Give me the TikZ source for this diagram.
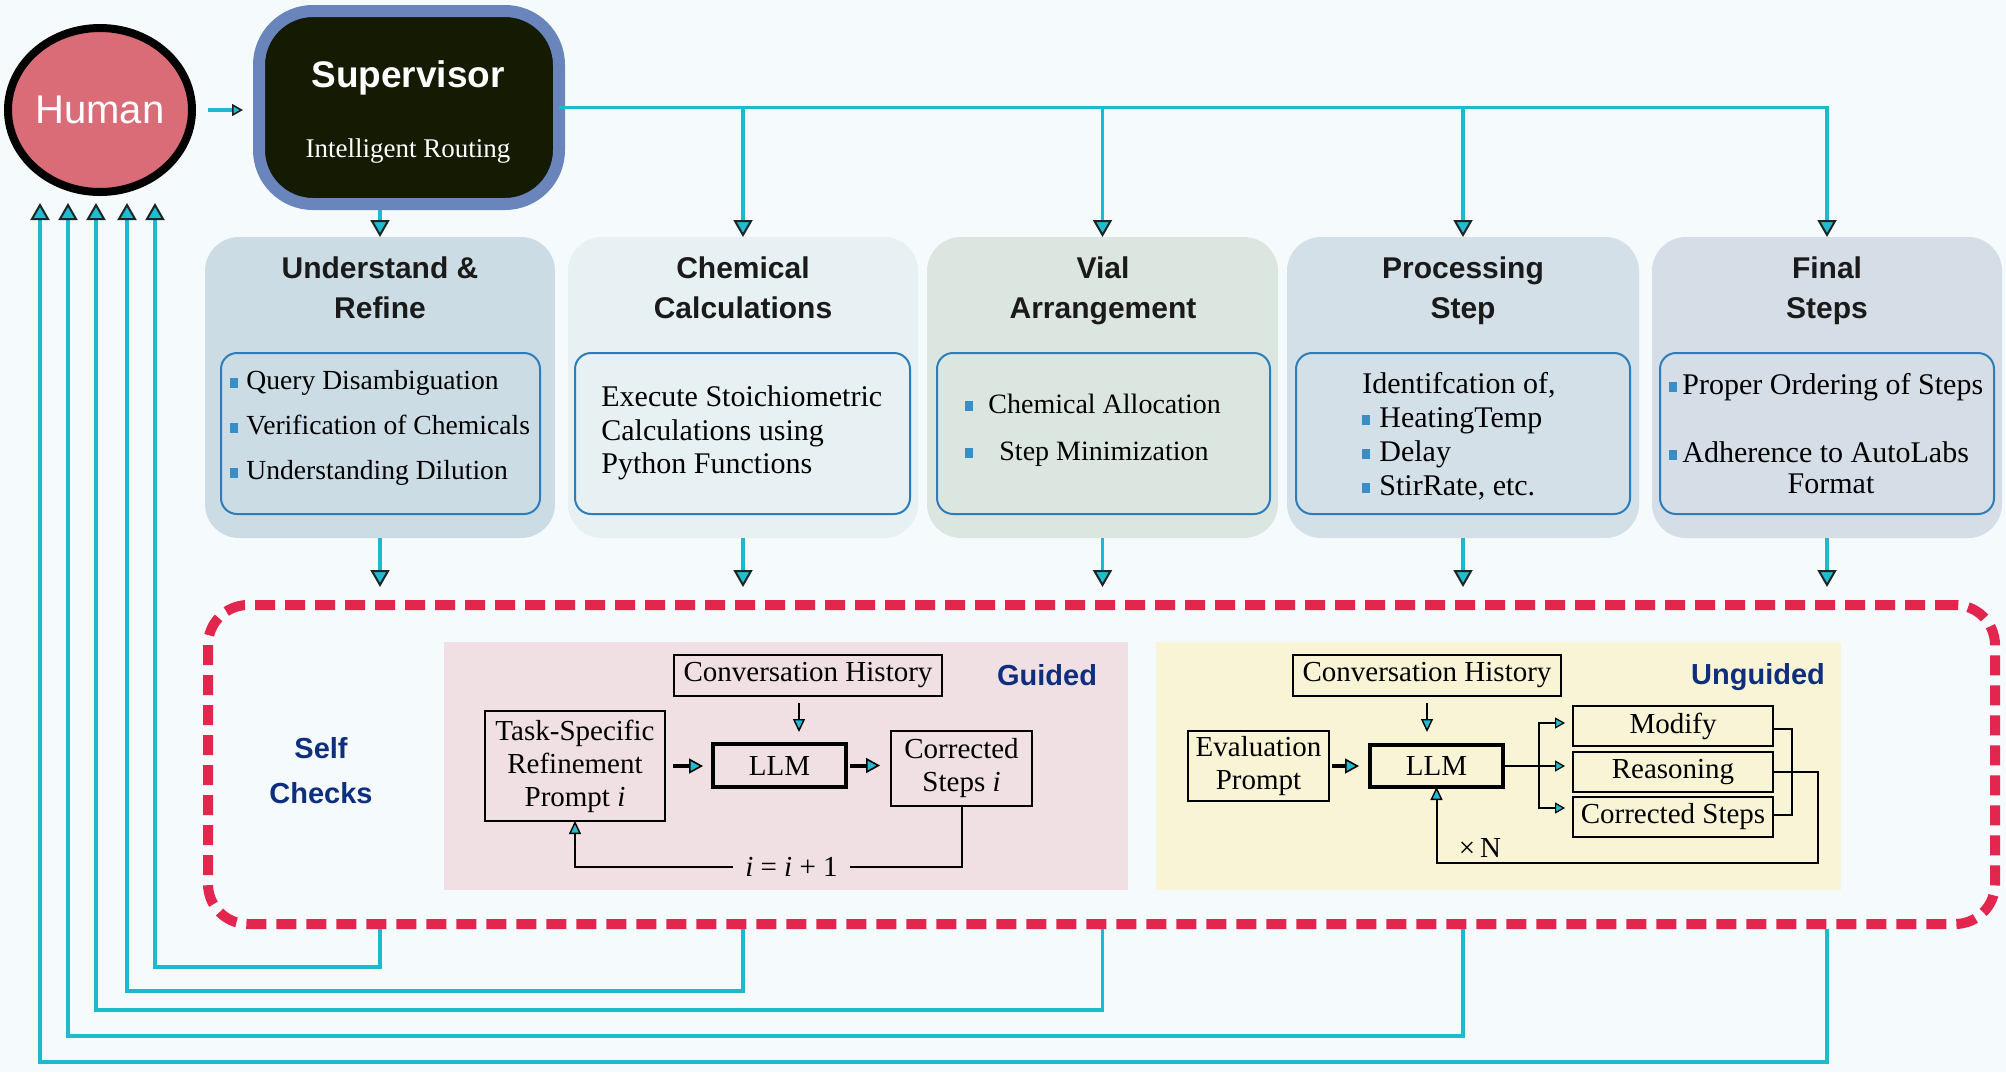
\documentclass[tikz,border=0pt]{standalone}
\usepackage{fontspec}
\setmainfont{Liberation Serif}
\setsansfont{Liberation Sans}
\usetikzlibrary{arrows.meta,shapes.geometric,calc}
\definecolor{bg}{HTML}{F5FBFC}
\definecolor{humf}{HTML}{D96C77}
\definecolor{supf}{HTML}{151B03}
\definecolor{supb}{HTML}{6A84BC}
\definecolor{cyl}{HTML}{1DBACE}
\definecolor{cyf}{HTML}{22BBD0}
\definecolor{tipd}{HTML}{1A2626}
\definecolor{fa}{HTML}{CCDCE5}
\definecolor{fb}{HTML}{E7F0F2}
\definecolor{fc}{HTML}{DCE6E0}
\definecolor{fd}{HTML}{D4E0E8}
\definecolor{fe}{HTML}{D5DEE7}
\definecolor{inb}{HTML}{2F7DB8}
\definecolor{bul}{HTML}{3A8EC5}
\definecolor{redd}{HTML}{E3264E}
\definecolor{navy}{HTML}{0E2F7E}
\definecolor{gpf}{HTML}{F1E0E3}
\definecolor{upf}{HTML}{FAF4D6}
\definecolor{ttlc}{HTML}{1A1A1A}
\newcommand\bx[7]{\node[inner sep=0pt,outer sep=0pt,#6,minimum width={0.5pt*(#4-#2)},minimum height={0.5pt*(#5-#3)}] (#1) at ({(#2+#4)/2},{(#3+#5)/2}) {#7};}
\newcommand\bsq[1]{{\color{bul}\rule[1pt]{4pt}{5pt}}\hspace{#1}}
\begin{document}
\begin{tikzpicture}[x=0.5pt,y=-0.5pt,
  cyline/.style={draw=cyl,line width=1.6pt},
  bigtip/.style={-{Triangle[length=8.5pt,width=9.5pt,color=tipd,fill=cyf,line width=1pt]}},
  smalltipc/.style={-{Triangle[length=5.5pt,width=6pt,color=tipd,fill=cyf,line width=0.8pt]}},
  thickarr/.style={draw=black,line width=2pt,-{Triangle[length=7pt,width=7.5pt,color=black,fill=cyf,line width=0.8pt]}},
  thinarr/.style={draw=black,line width=1pt,-{Triangle[length=6.5pt,width=6pt,color=black,fill=cyf,line width=0.7pt]}},
  smallarr/.style={draw=black,line width=1pt,-{Triangle[length=5pt,width=5.5pt,color=black,fill=cyf,line width=0.6pt]}},
  stg/.style={fill=#1,rounded corners=17pt},
  inr/.style={fill=#1,draw=inb,line width=1pt,rounded corners=8pt},
  ttl/.style={font=\sffamily\bfseries\fontsize{15}{20}\selectfont,text=ttlc,align=center,inner sep=0pt},
  navyt/.style={font=\sffamily\bfseries\fontsize{14.5}{22.5}\selectfont,text=navy,align=center,inner sep=0pt},
  box/.style={draw=black,line width=1.2pt,font=\fontsize{14.5}{16.5}\selectfont,align=center},
  lbl/.style={font=\fontsize{14.5}{16.5}\selectfont,inner sep=0pt}]
\useasboundingbox (0,0) rectangle (2006,1072);
\fill[bg] (0,0) rectangle (2006,1072);

% Human and Supervisor
\node[ellipse,draw=black,line width=4pt,fill=humf,minimum width=92pt,minimum height=82pt,inner sep=0pt,outer sep=0pt,font=\sffamily\fontsize{20}{24}\selectfont,text=white] (hum) at (100,110) {Human};
\bx{sup}{259}{11}{559}{204}{draw=supb,fill=supf,line width=6pt,rounded corners=27pt}{}
\node[font=\sffamily\bfseries\fontsize{18.5}{22}\selectfont,text=white,inner sep=0pt] (supt) at (408,78) {Supervisor};
\node[font=\fontsize{13.5}{16}\selectfont,text=white,inner sep=0pt] (supr) at (408,151) {Intelligent Routing};

% Stage boxes
\bx{s1}{205}{237}{555}{538}{stg=fa}{}
\bx{s2}{568}{237}{918}{538}{stg=fb}{}
\bx{s3}{927}{237}{1278}{538}{stg=fc}{}
\bx{s4}{1287}{237}{1639}{538}{stg=fd}{}
\bx{s5}{1652}{237}{2002}{538}{stg=fe}{}
\bx{i1}{221}{353}{540}{514}{inr=fa}{}
\bx{i2}{575}{353}{910}{514}{inr=fb}{}
\bx{i3}{937}{353}{1270}{514}{inr=fc}{}
\bx{i4}{1296}{353}{1630}{514}{inr=fd}{}
\bx{i5}{1660}{353}{1994}{514}{inr=fe}{}
\node[ttl] (t1) at (380,288) {Understand \&\\Refine};
\node[ttl] (t2) at (743,288) {Chemical\\Calculations};
\node[ttl] (t3) at (1103,291) {Vial\\Arrangement};
\node[ttl] (t4) at (1463,291) {Processing\\Step};
\node[ttl] (t5) at (1827,291) {Final\\Steps};
\node[anchor=west,align=left,inner sep=0pt,font=\fontsize{13.8}{22.5}\selectfont] (c1) at (230,428) {\bsq{4pt}Query Disambiguation\\\bsq{4pt}Verification of Chemicals\\\bsq{4pt}Understanding Dilution};
\node[anchor=west,align=left,inner sep=0pt,font=\fontsize{15}{16.75}\selectfont] (c2) at (601,433) {Execute Stoichiometric\\Calculations using\\Python Functions};
\node[anchor=west,align=left,inner sep=0pt,font=\fontsize{14}{23.5}\selectfont] (c3) at (965,430) {\bsq{7.5pt}Chemical Allocation\\\bsq{13pt}Step Minimization};
\node[anchor=west,align=left,inner sep=0pt,font=\fontsize{15}{17}\selectfont] (c4) at (1362,436) {Identifcation of,\\\bsq{4.5pt}HeatingTemp\\\bsq{4.5pt}Delay\\\bsq{4.5pt}StirRate, etc.};
\node[anchor=west,align=left,inner sep=0pt,font=\fontsize{15}{34}\selectfont] (c5) at (1669,418) {\bsq{2.5pt}Proper Ordering of Steps\\\bsq{2.5pt}Adherence to AutoLabs};
\node[inner sep=0pt,font=\fontsize{15}{17}\selectfont] (c5f) at (1831,484) {Format};

% Self checks dashed box
\bx{dash}{208}{605}{1995}{924}{draw=redd,line width=5pt,dash pattern=on 10pt off 5pt,rounded corners=20pt}{}
\node[navyt] (sc) at (321,771) {Self\\Checks};

% Guided panel
\bx{gp}{444}{642}{1128}{890}{fill=gpf}{}
\bx{gch}{674}{655}{942}{696}{box}{Conversation History}
\node[navyt] (gl) at (1047,675) {Guided};
\bx{gllm}{713}{744}{846}{787}{box,line width=2pt}{LLM}
\bx{gtask}{485}{711}{665}{821}{box}{Task-Specific\\Refinement\\Prompt \textit{i}}
\bx{gcor}{891}{731}{1032}{806}{box}{Corrected\\Steps \textit{i}}
\coordinate (gca) at ($(gch.south)+(-9,0)$);
\draw[thinarr,shorten <=3.5pt,shorten >=6pt] (gca) -- (gca |- gllm.north);
\draw[thickarr,shorten <=4pt,shorten >=5pt] (gtask.east) -- (gtask.east -| gllm.west);
\draw[thickarr,shorten <=2pt,shorten >=5.5pt] (gllm.east) -- (gllm.east -| gcor.west);
\draw[thinarr] (gcor.south) -- ++(0,61) -| node[pos=0.22,fill=gpf,inner xsep=6pt,inner ysep=1pt,font=\fontsize{14.5}{16.5}\selectfont] (glab) {\textit{i} = \textit{i} + 1} (gtask.south);

% Unguided panel
\bx{up}{1156}{642}{1841}{890}{fill=upf}{}
\bx{uch}{1293}{655}{1561}{696}{box}{Conversation History}
\node[navyt] (ul) at (1758,677) {Unguided};
\bx{ueval}{1188}{731}{1329}{801}{box}{Evaluation\\Prompt}
\bx{ullm}{1370}{745}{1503}{787}{box,line width=2pt}{LLM}
\bx{umod}{1573}{706}{1773}{746}{box}{Modify}
\bx{ureas}{1573}{752}{1773}{792}{box}{Reasoning}
\bx{ucor}{1573}{797}{1773}{837}{box}{Corrected Steps}
\draw[thinarr,shorten <=3.5pt,shorten >=6.5pt] (uch.south) -- (uch.south |- ullm.north);
\draw[thickarr,shorten <=1.5pt,shorten >=5.5pt] (ueval.east) -- (ueval.east -| ullm.west);
\draw[line width=1pt] (ullm.east) -- ++(36,0) coordinate (ubr);
\draw[smallarr,shorten >=4pt] (ubr) |- ([yshift=1.5pt]umod.west);
\draw[smallarr,shorten >=4pt] (ubr) -- (ubr -| ureas.west);
\draw[smallarr,shorten >=4pt] (ubr) |- ([yshift=4.5pt]ucor.west);
\draw[line width=1pt] ([yshift=-1.5pt]umod.east) -- ++(19,0) |- ([yshift=1pt]ucor.east);
\draw[thinarr] (ureas.east) -- ++(45,0) -- ++(0,91) -| (ullm.south);
\node[lbl] (xn) at (1480,848) {×\,N};

% Connectors
\draw[cyline,smalltipc,shorten <=8pt,shorten >=8pt] (hum.east) -- (hum.east -| sup.west);
\draw[cyline,bigtip] ($(s1.north |- sup.south)+(0,6)$) -- (s1.north);
\draw[cyline,bigtip] (sup.east) -| (s2.north);
\draw[cyline,bigtip] (sup.east) -| (s3.north);
\draw[cyline,bigtip] (sup.east) -| (s4.north);
\draw[cyline,bigtip] (sup.east) -| (s5.north);
\foreach \s in {s1,s2,s3,s4,s5}{
  \draw[cyline,bigtip,shorten >=9pt] (\s.south) -- (\s.south |- dash.north);
}
\draw[cyline,bigtip] ($(s1.south |- dash.south)+(0,5)$) -- ++(0,38) -| ([xshift=27.5pt,yshift=-5.5pt]hum.south);
\draw[cyline,bigtip] ($(s2.south |- dash.south)+(0,5)$) -- ++(0,62) -| ([xshift=13.5pt,yshift=-5.5pt]hum.south);
\draw[cyline,bigtip] ($(s3.south |- dash.south)+(0,5)$) -- ++(0,81) -| ([xshift=-2pt,yshift=-5.5pt]hum.south);
\draw[cyline,bigtip] ($(s4.south |- dash.south)+(0,5)$) -- ++(0,107) -| ([xshift=-16pt,yshift=-5.5pt]hum.south);
\draw[cyline,bigtip] ($(s5.south |- dash.south)+(0,5)$) -- ++(0,133) -| ([xshift=-30pt,yshift=-5.5pt]hum.south);
\end{tikzpicture}
\end{document}
